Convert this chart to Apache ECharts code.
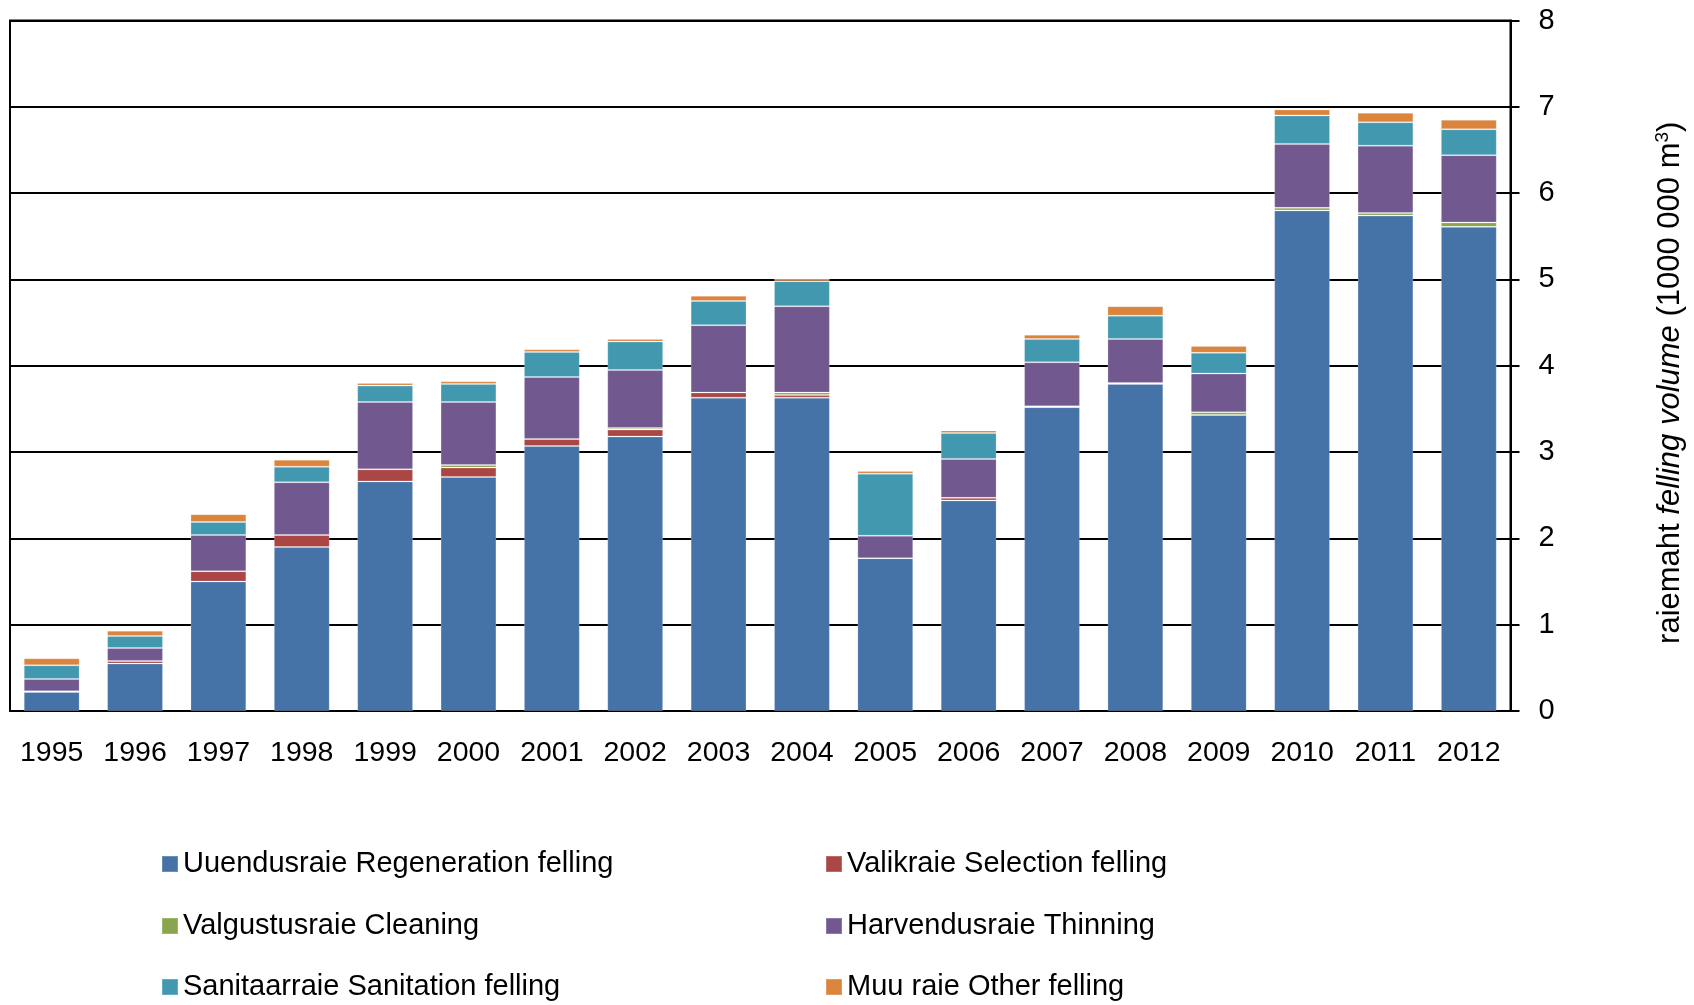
<!DOCTYPE html>
<html>
<head>
<meta charset="utf-8">
<script src="https://cdn.jsdelivr.net/npm/echarts@6/dist/echarts.min.js"></script>
<style>html,body{margin:0;padding:0;background:#fff;}#c{width:1694px;height:1005px;}</style>
</head>
<body>
<div id="c"></div>
<script>
const years = ['1995','1996','1997','1998','1999','2000','2001','2002','2003','2004','2005','2006','2007','2008','2009','2010','2011','2012'];
const regeneration = [0.22, 0.55, 1.50, 1.90, 2.66, 2.71, 3.07, 3.18, 3.63, 3.63, 1.77, 2.44, 3.52, 3.79, 3.43, 5.80, 5.74, 5.61];
const selection    = [0.01, 0.03, 0.12, 0.14, 0.14, 0.11, 0.08, 0.08, 0.06, 0.03, 0.00, 0.03, 0.01, 0.01, 0.00, 0.00, 0.00, 0.00];
const cleaning     = [0.00, 0.00, 0.00, 0.00, 0.00, 0.03, 0.00, 0.02, 0.00, 0.03, 0.00, 0.00, 0.00, 0.00, 0.03, 0.03, 0.03, 0.05];
const thinning     = [0.14, 0.15, 0.42, 0.61, 0.78, 0.73, 0.72, 0.67, 0.78, 1.00, 0.26, 0.45, 0.51, 0.51, 0.45, 0.74, 0.78, 0.78];
const sanitation   = [0.16, 0.14, 0.15, 0.18, 0.19, 0.21, 0.29, 0.33, 0.28, 0.29, 0.72, 0.30, 0.27, 0.27, 0.24, 0.33, 0.27, 0.30];
const other        = [0.08, 0.06, 0.09, 0.08, 0.03, 0.03, 0.03, 0.03, 0.06, 0.03, 0.03, 0.03, 0.05, 0.11, 0.08, 0.07, 0.11, 0.11];
const yTicks = [0, 1, 2, 3, 4, 5, 6, 7, 8];

const names = ['Uuendusraie Regeneration felling','Valikraie Selection felling','Valgustusraie Cleaning','Harvendusraie Thinning','Sanitaarraie Sanitation felling','Muu raie Other felling'];
const colors = ['#4572A7','#AA4643','#89A54E','#71588F','#4198AF','#DB843D'];
const values = [regeneration, selection, cleaning, thinning, sanitation, other];

const font = 'Liberation Sans, Arial, sans-serif';
const chart = echarts.init(document.getElementById('c'));
const legendPos = [[161, 849], [825, 849], [161, 911], [825, 911], [161, 972], [825, 972]];
chart.setOption({
  animation: false,
  color: colors,
  grid: {left: 10, right: 179, top: 20.5, bottom: 294, show: true, borderColor: '#000', borderWidth: 2, containLabel: false},
  legend: names.map((n, k) => ({
    left: legendPos[k][0], top: legendPos[k][1], padding: 0,
    itemWidth: 16, itemHeight: 16, icon: 'rect', selectedMode: false,
    textStyle: {fontFamily: font, fontSize: 29, color: '#000', lineHeight: 30},
    data: [n]
  })),
  xAxis: {
    type: 'category', data: years,
    axisLine: {lineStyle: {color: '#000', width: 2}},
    axisTick: {length: 8, lineStyle: {color: '#000', width: 2}},
    axisLabel: {fontFamily: font, fontSize: 28.5, color: '#000', margin: 28, interval: 0, hideOverlap: false}
  },
  yAxis: {
    type: 'value', position: 'right', min: yTicks[0], max: yTicks[yTicks.length - 1], interval: 1,
    axisLine: {show: true, lineStyle: {color: '#000', width: 2}},
    axisTick: {show: true, length: 9, lineStyle: {color: '#000', width: 2}},
    axisLabel: {fontFamily: font, fontSize: 29, color: '#000', margin: 28},
    splitLine: {lineStyle: {color: '#000', width: 2}},
    name: '{n|raiemaht }{i|felling volume}{n| (1000 000 m}{s|3}{n|)}',
    nameLocation: 'middle', nameRotate: 90, nameGap: 143,
    nameTextStyle: {
      fontFamily: font, fontSize: 31, color: '#000', padding: [0, 34, 0, 0],
      rich: {
        n: {fontFamily: font, fontSize: 31, color: '#000', lineHeight: 34},
        i: {fontFamily: font, fontSize: 31, color: '#000', fontStyle: 'italic', lineHeight: 34},
        s: {fontFamily: font, fontSize: 19, color: '#000', verticalAlign: 'top', lineHeight: 34}
      }
    }
  },
  series: names.map((n, k) => ({
    name: n, type: 'bar', stack: 'total', data: values[k], barWidth: '67%',
    itemStyle: {color: colors[k], borderColor: 'rgba(255,255,255,0.2)', borderWidth: 1}
  }))
});
</script>
</body>
</html>
